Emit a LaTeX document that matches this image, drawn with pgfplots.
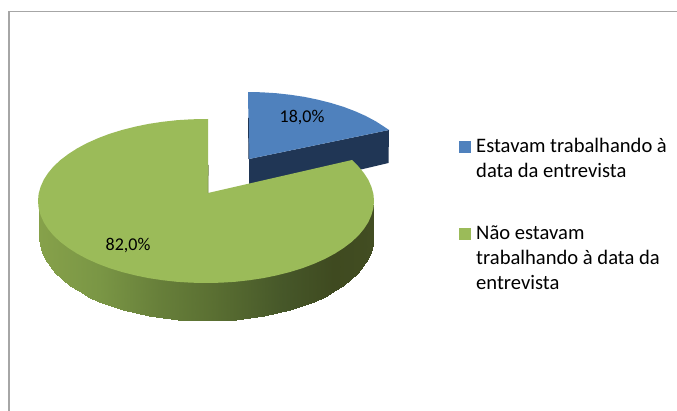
\documentclass[border=0pt]{standalone}
\usepackage{pgfplots}
\pgfplotsset{compat=1.18}
\usepackage{fontspec}
\setmainfont{Carlito}
\definecolor{pieblue}{HTML}{4F81BD}
\definecolor{piebluedark}{HTML}{203655}
\definecolor{piegreen}{HTML}{9BBB59}
\definecolor{framegray}{HTML}{A6A6A6}
\begin{document}
\begin{tikzpicture}
\path[use as bounding box] (0,0) rectangle (677pt,411pt);
\begin{axis}[at={(0,0)},anchor=south west,scale only axis,width=677pt,height=411pt,
 xmin=0,xmax=677,ymin=0,ymax=411,y dir=reverse,hide axis,clip=true,
 colormap={sidegreen}{rgb255(0pt)=(134,161,74) rgb255(60pt)=(122,150,69) rgb255(120pt)=(103,127,58) rgb255(174pt)=(90,111,50) rgb255(244pt)=(70,87,41) rgb255(294pt)=(63,74,32) rgb255(334pt)=(66,77,34)}]
% chart frame
\addplot[framegray,line width=1.4pt,mark=none] coordinates {(9,411)(9,11.5)(677,11.5)};
% 18,0 % slice: side
\addplot[fill=piebluedark,draw=none,mark=none] coordinates {(249,159)(389,130)(388.5,163)(361,169.5)(300,182)(249,186)};
% 18,0 % slice: top
\addplot[fill=pieblue,draw=none,mark=none] coordinates {(248,92)(261.6,92.3)(276.2,93.2)(290.5,94.8)(304.5,96.9)(318,99.7)(331,103)(343.4,106.8)(355,111.2)(365.8,116)(375.7,121.3)(384.6,127)(389,130)(249,159)};
\addplot[piebluedark,line width=0.7pt,mark=none] coordinates {(248.4,118)(248.8,159)};
% 82,0 % slice: side
\addplot[surf,shader=interp,mesh/rows=2,mesh/cols=37,point meta=x,point meta min=39.5,point meta max=373.5] coordinates {
(39.5,205)(40.1,205)(42,205)(45.2,205)(49.6,205)(55.1,205)(61.9,205)(69.7,205)(78.6,205)(88.4,205)(99.2,205)(110.7,205)(123,205)(135.9,205)(149.4,205)(163.3,205)(177.5,205)(191.9,205)(206.5,205)(221.1,205)(235.5,205)(249.7,205)(263.6,205)(277.1,205)(290,205)(302.3,205)(313.8,205)(324.6,205)(334.4,205)(343.3,205)(351.1,205)(357.9,205)(363.4,205)(367.8,205)(371,205)(372.9,205)(373.5,205)
(39.5,238)(40.1,245.2)(42,252.4)(45.2,259.5)(49.6,266.4)(55.1,273.1)(61.9,279.5)(69.7,285.6)(78.6,291.4)(88.4,296.7)(99.2,301.6)(110.7,306)(123,309.9)(135.9,313.2)(149.4,316)(163.3,318.2)(177.5,319.7)(191.9,320.7)(206.5,321)(221.1,320.7)(235.5,319.7)(249.7,318.2)(263.6,316)(277.1,313.2)(290,309.9)(302.3,306)(313.8,301.6)(324.6,296.7)(334.4,291.4)(343.3,285.6)(351.1,279.5)(357.9,273.1)(363.4,266.4)(367.8,259.5)(371,252.4)(372.9,245.2)(373.5,238)};
% 82,0 % slice: top
\addplot[fill=piegreen,draw=none,mark=none] coordinates {(208,119)(191.4,119.3)(176.8,120.2)(162.5,121.8)(148.5,123.9)(135,126.7)(122,130)(109.6,133.8)(98,138.2)(87.2,143)(77.3,148.3)(68.4,154)(60.5,160)(53.7,166.3)(48.1,173)(43.7,179.8)(40.6,186.8)(38.6,193.8)(38,201)(38.6,208.2)(40.6,215.2)(43.7,222.2)(48.1,229)(53.7,235.7)(60.5,242)(68.4,248)(77.3,253.7)(87.2,259)(98,263.8)(109.6,268.2)(122,272)(135,275.3)(148.5,278.1)(162.5,280.2)(176.8,281.8)(191.4,282.7)(206,283)(220.6,282.7)(235.2,281.8)(249.5,280.2)(263.5,278.1)(277,275.3)(290,272)(302.4,268.2)(314,263.8)(324.8,259)(334.7,253.7)(343.6,248)(351.5,242)(358.3,235.7)(363.9,229)(368.3,222.2)(371.4,215.2)(373.4,208.2)(374,201)(373.4,193.8)(371.4,186.8)(368.3,179.8)(363.9,173)(358.3,166.3)(352,160)(208,193)};
\addplot[black!35!piegreen,line width=0.5pt,mark=none] coordinates {(208.4,165)(208,193)};
% legend swatches
\addplot[fill=pieblue,draw=none,mark=none] coordinates {(459,141)(471,141)(471,153)(459,153)};
\addplot[fill=piegreen,draw=none,mark=none] coordinates {(459,228)(471,228)(471,240)(459,240)};
% data labels
\node[font=\fontsize{18pt}{22pt}\selectfont] at (axis cs:302,117.5) {18,0\%};
\node[font=\fontsize{18pt}{22pt}\selectfont] at (axis cs:128,246) {82,0\%};
% legend text
\tikzset{lg/.style={anchor=base west,inner sep=0pt,font=\fontsize{20.6pt}{24pt}\selectfont}}
\node[lg] at (axis cs:476,152.7) {Estavam trabalhando à};
\node[lg] at (axis cs:476,178) {data da entrevista};
\node[lg] at (axis cs:476,240) {Não estavam};
\node[lg] at (axis cs:476,265) {trabalhando à data da};
\node[lg] at (axis cs:476,290) {entrevista};
\end{axis}
\end{tikzpicture}
\end{document}
